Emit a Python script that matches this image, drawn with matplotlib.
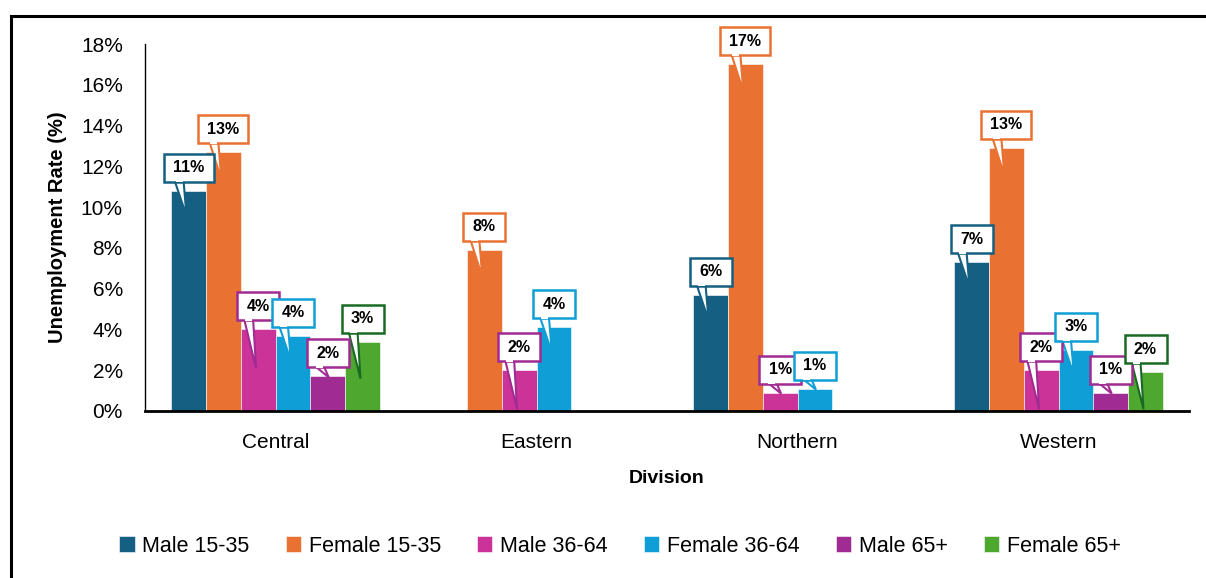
import numpy as np
import matplotlib
matplotlib.use("Agg")
import matplotlib.pyplot as plt
from matplotlib.patches import Rectangle, Polygon
from matplotlib.transforms import IdentityTransform
from matplotlib.ticker import FuncFormatter

plt.rcParams['font.family'] = ['Liberation Sans', 'DejaVu Sans']

divisions = ['Central', 'Eastern', 'Northern', 'Western']
groups = ['Male 15-35', 'Female 15-35', 'Male 36-64', 'Female 36-64', 'Male 65+', 'Female 65+']

# unemployment rate (%) per division, nan = no data
male_15_35 = [10.8, np.nan, 5.7, 7.3]
female_15_35 = [12.7, 7.9, 17.0, 12.9]
male_36_64 = [4.0, 2.0, 0.9, 2.0]
female_36_64 = [3.7, 4.1, 1.1, 3.0]
male_65 = [1.7, np.nan, np.nan, 0.9]
female_65 = [3.4, np.nan, np.nan, 1.9]

series = [male_15_35, female_15_35, male_36_64, female_36_64, male_65, female_65]
bar_colors = ['#156082', '#E97132', '#CC3399', '#0F9ED5', '#A02B93', '#4EA72E']
edge_colors = ['#156082', '#E97132', '#A02B93', '#0F9ED5', '#A02B93', '#196B24']
# how far the callout pointer reaches into the bar (px)
tip_depth = [25, 27, 39, 25, 0, 37]

fig = plt.figure(figsize=(12.06, 5.78), dpi=100)
fig.subplots_adjust(left=145 / 1206, right=1189 / 1206, bottom=1 - 411 / 578, top=1 - 44 / 578)
ax = fig.add_subplot(111)

# outer frame
fig.add_artist(Rectangle((11 / 1206, -0.2), 1.2, 1.2 - 15.5 / 578,
                         transform=fig.transFigure, fill=False, lw=2.2, ec='black'))

n = len(series)
group_w = 0.8
bw = group_w / n
x = np.arange(len(divisions))
for i, vals in enumerate(series):
    pos = x - group_w / 2 + bw * (i + 0.5)
    ax.bar(pos, vals, width=bw, color=bar_colors[i], edgecolor='white', linewidth=0.4,
           label=groups[i], zorder=2)

ax.set_xlim(-0.5, len(divisions) - 0.5)
ax.set_ylim(0, 18)
ax.set_yticks(np.arange(0, 19, 2))
ax.yaxis.set_major_formatter(FuncFormatter(lambda v, _: f'{v:.0f}%'))
ax.set_xticks(x)
ax.set_xticklabels(divisions)
ax.tick_params(axis='both', length=0, labelsize=15, colors='black')
ax.tick_params(axis='y', pad=16)
ax.tick_params(axis='x', pad=16)
for s in ['top', 'right']:
    ax.spines[s].set_visible(False)
ax.spines['left'].set_linewidth(1.0)
ax.spines['bottom'].set_linewidth(2.0)

ax.set_ylabel('Unemployment Rate (%)', fontsize=14.5, fontweight='bold', labelpad=10)
ax.set_xlabel('Division', fontsize=14, fontweight='bold', labelpad=13)

# callout boxes with pointers
ident = IdentityTransform()
for i, vals in enumerate(series):
    for j, v in enumerate(vals):
        if np.isnan(v):
            continue
        bx_d = j - group_w / 2 + bw * (i + 0.5)
        px, py = ax.transData.transform((bx_d, v))
        _, py0 = ax.transData.transform((bx_d, 0))
        label = f'{v:.0f}%'
        w = 42 + 8 * (len(label) - 2)
        h = 28
        bot = py + 9
        depth = tip_depth[i]
        if depth == 0 or depth > py - py0:
            tip = (px + 1, py - 1)
            base = (px - 13, px - 4)
        else:
            tip = (px - 2, py - depth)
            base = (px - 14, px - 5)
        wedge = Polygon([(base[0], bot + 1.5), tip, (base[1], bot + 1.5)], closed=True,
                        fc='white', ec=edge_colors[i], lw=1.5, transform=ident, zorder=5)
        fig.add_artist(wedge)
        box = Rectangle((px - w / 2, bot), w, h, fc='white', ec=edge_colors[i], lw=1.8,
                        transform=ident, zorder=6)
        fig.add_artist(box)
        # white patch hides the box edge where the pointer joins
        fig.add_artist(Polygon([(base[0] + 1, bot + 1.2), (base[1] - 1, bot + 1.2),
                                (base[1] - 1, bot - 0.5), (base[0] + 1, bot - 0.5)],
                               fc='white', ec='none', transform=ident, zorder=7))
        fig.text(px, bot + h / 2, label, transform=ident, ha='center', va='center',
                 fontsize=11.5, fontweight='bold', color='black', zorder=8)

fig.legend(loc='center', bbox_to_anchor=(620 / 1206, 1 - 546 / 578), ncol=6, frameon=False,
           fontsize=15.5, handlelength=0.7, handleheight=0.7, handletextpad=0.35,
           columnspacing=1.7)

fig.savefig('out.png', dpi=100)
